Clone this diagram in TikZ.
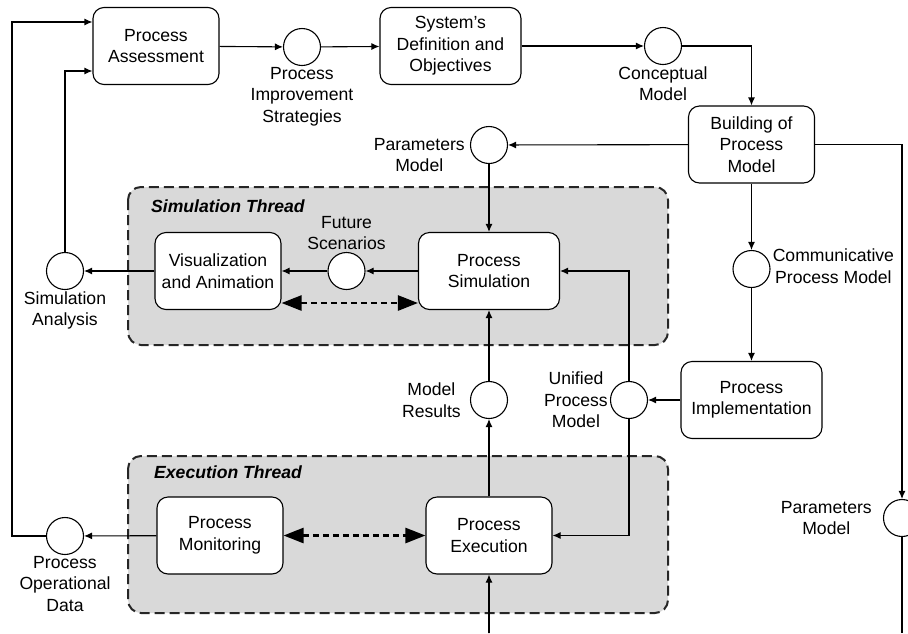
\documentclass[tikz,border=0pt]{standalone}
\usepackage{fontspec}
\setmainfont{Liberation Sans}
\usepackage{xcolor}
\usepackage{tikz}
\usetikzlibrary{arrows.meta,positioning,shapes}

\definecolor{threadgray}{RGB}{217,217,217}

\begin{document}
\begin{tikzpicture}[x=1pt,y=-1pt,node distance=2pt,
  every node/.style={font=\fontsize{17.6}{21.5}\selectfont},
  >={Latex[length=8pt,width=7pt]}
]

\tikzstyle{task}=[draw,rectangle,rounded corners=11pt,fill=white,align=center,line width=1.1pt,minimum width=126pt,minimum height=77pt,inner sep=2pt]
\tikzstyle{widetask}=[task,minimum width=141pt]
\tikzstyle{store}=[draw,circle,fill=white,minimum size=37pt,inner sep=0pt,line width=1.1pt]
\tikzset{tag/.style={align=center,inner sep=1pt}}
\tikzset{title/.style={anchor=west,inner sep=0pt,font=\fontsize{17.6}{21.5}\selectfont\bfseries\itshape}}
\tikzset{thread/.style={draw=black!85,fill=threadgray,line width=2pt,rounded corners=13pt,dash pattern=on 10pt off 5pt}}
\tikzset{sync/.style={{Triangle[length=20pt,width=15pt]}-{Triangle[length=20pt,width=15pt]},line width=2.5pt,dash pattern=on 6pt off 4pt}}

\useasboundingbox (0,0) rectangle (908,633);

\draw[thread] (128,187) rectangle (668,345);
\draw[thread] (128,456) rectangle (668,613);
\node[title] (simt) at (151,206) {Simulation Thread};
\node[title] (exet) at (154,472) {Execution Thread};

\node[task]     (pa)   at (156,46)    {Process\\Assessment};
\node[store]    (pis)  at (302,47)    {};
\node[widetask] (sdo)  at (450.5,46)  {System's\\Definition and\\Objectives};
\node[store]    (cm)   at (663,46)    {};
\node[task]     (bpm)  at (751.5,144.5) {Building of\\Process\\Model};
\node[store]    (pm1)  at (489,145)   {};
\node[store]    (cpm)  at (751.5,269) {};
\node[widetask] (impl) at (751.5,400) {Process\\Implementation};
\node[store]    (upm)  at (629,400)   {};
\node[store]    (mr)   at (489,400)   {};
\node[widetask] (sim)  at (489,271)   {Process\\Simulation};
\node[store]    (fs)   at (346.5,271) {};
\node[task]     (vis)  at (218,271)   {Visualization\\and Animation};
\node[store]    (sa)   at (65,271)    {};
\node[task]     (mon)  at (220,535.5) {Process\\Monitoring};
\node[task]     (exec) at (489,535.5) {Process\\Execution};
\node[store]    (pod)  at (65,536)    {};
\node[store]    (pm2)  at (902,518)   {};
\coordinate (feed) at (489,633);
\coordinate (drop) at (902,633);

\node[tag,below=0pt of pis]            {Process\\Improvement\\Strategies};
\node[tag,below=0pt of cm]             {Conceptual\\Model};
\node[tag,left=4pt of pm1,yshift=-10pt] {Parameters\\Model};
\node[tag,right=1pt of cpm,yshift=3pt] {Communicative\\Process Model};
\node[tag,left=1pt of upm]             {Unified\\Process\\Model};
\node[tag,left=8pt of mr]              {Model\\Results};
\node[tag,above=1pt of fs]             {Future\\Scenarios};
\node[tag,below=0pt of sa]             {Simulation\\Analysis};
\node[tag,below=0pt of pod]            {Process\\Operational\\Data};
\node[tag,left=10pt of pm2]            {Parameters\\Model};

\draw[->,line width=1.1pt]
  (pa) edge (pis)
  (pis) edge (sdo)
  (sdo) edge (cm)
  (bpm) edge (pm1)
  (bpm) edge (cpm)
  (cpm) edge (impl)
  (impl) edge (upm)
  (pm1) edge (sim)
  (mr) edge (sim)
  (exec) edge (mr)
  (feed) edge (exec)
  (sim) edge (fs)
  (fs) edge (vis)
  (vis) edge (sa)
  (mon) edge (pod);

\draw[->,line width=1.1pt] (cm) -| (bpm);
\draw[->,line width=1.1pt] (bpm) -| (pm2);
\draw[->,line width=1.1pt] (upm) |- (sim);
\draw[->,line width=1.1pt] (upm) |- (exec);
\draw[->,line width=1.1pt] (sa) |- ([yshift=-25pt]pa.west);
\draw[->,line width=1.1pt] (pod) -- ++(-53,0) |- ([yshift=24pt]pa.west);
\draw[line width=1.1pt] (pm2) -- (drop);

\draw[sync] ([yshift=-32pt]vis.east) -- ([yshift=-32pt]sim.west);
\draw[sync] (mon) -- (exec);

\end{tikzpicture}
\end{document}
